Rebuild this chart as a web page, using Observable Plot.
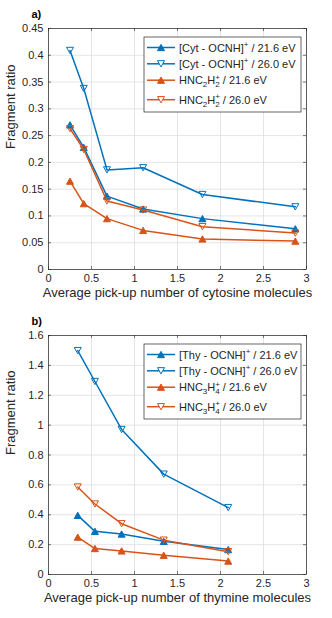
<!DOCTYPE html>
<html>
<head>
<meta charset="utf-8">
<script src="https://cdn.jsdelivr.net/npm/d3@7"></script>
<script src="https://cdn.jsdelivr.net/npm/@observablehq/plot@0.6"></script>
<style>
  html, body { margin: 0; padding: 0; background: #fff; }
  #wrap { width: 332px; }
  svg { display: block; }
</style>
</head>
<body>
<div id="wrap"></div>
<script>
// ---------- data ----------
const xCyt = [0.25, 0.41, 0.68, 1.10, 1.79, 2.87];
const cyt216 = [0.270, 0.228, 0.137, 0.113, 0.095, 0.076];
const cyt260 = [0.409, 0.338, 0.186, 0.190, 0.140, 0.117];
const hnc2216 = [0.165, 0.123, 0.095, 0.073, 0.057, 0.053];
const hnc2260 = [0.263, 0.224, 0.128, 0.111, 0.080, 0.068];

const xThy = [0.34, 0.54, 0.85, 1.34, 2.09];
const thy216 = [0.396, 0.289, 0.271, 0.222, 0.167];
const thy260 = [1.499, 1.292, 0.971, 0.672, 0.448];
const hnc3216 = [0.250, 0.174, 0.158, 0.129, 0.090];
const hnc3260 = [0.586, 0.472, 0.340, 0.230, 0.153];

const xTicks = [0, 0.5, 1, 1.5, 2, 2.5, 3];
const yTicksA = [0, 0.05, 0.1, 0.15, 0.2, 0.25, 0.3, 0.35, 0.4, 0.45];
const yTicksB = [0, 0.2, 0.4, 0.6, 0.8, 1, 1.2, 1.4, 1.6];

const legendA = [
  [{t: "[Cyt - OCNH]"}, {t: "+", sup: true}, {t: " / 21.6 eV"}],
  [{t: "[Cyt - OCNH]"}, {t: "+", sup: true}, {t: " / 26.0 eV"}],
  [{t: "HNC"}, {t: "2", sub: true}, {t: "H"}, {t: "2", stack: "+"}, {t: " / 21.6 eV"}],
  [{t: "HNC"}, {t: "2", sub: true}, {t: "H"}, {t: "2", stack: "+"}, {t: " / 26.0 eV"}]
];
const legendB = [
  [{t: "[Thy - OCNH]"}, {t: "+", sup: true}, {t: " / 21.6 eV"}],
  [{t: "[Thy - OCNH]"}, {t: "+", sup: true}, {t: " / 26.0 eV"}],
  [{t: "HNC"}, {t: "3", sub: true}, {t: "H"}, {t: "4", stack: "+"}, {t: " / 21.6 eV"}],
  [{t: "HNC"}, {t: "3", sub: true}, {t: "H"}, {t: "4", stack: "+"}, {t: " / 26.0 eV"}]
];

// ---------- style ----------
const BLUE = "#0072BD", ORANGE = "#D95319", INK = "#262626", GRID = "#dedede";
const FONT = "'Liberation Sans', Arial, Helvetica, sans-serif";

const triUp = {draw(ctx, size) {
  const r = Math.sqrt(size / Math.PI);
  const h = r * 0.9;
  ctx.moveTo(0, -h); ctx.lineTo(r, h); ctx.lineTo(-r, h); ctx.closePath();
}};
const triDown = {draw(ctx, size) {
  const r = Math.sqrt(size / Math.PI);
  const h = r * 0.9;
  ctx.moveTo(0, h); ctx.lineTo(r, -h); ctx.lineTo(-r, -h); ctx.closePath();
}};

const fmt = d => String(+d.toFixed(2));

function seriesMarks(xs, ys, color, up) {
  const data = xs.map((x, i) => ({x, y: ys[i]}));
  return [
    Plot.line(data, {x: "x", y: "y", stroke: color, strokeWidth: 1.5}),
    Plot.dot(data, {x: "x", y: "y", symbol: up ? triUp : triDown, r: 3.5,
      fill: up ? color : "none", stroke: color, strokeWidth: 1})
  ];
}

function panel(opts) {
  const {xs, series, yTicks, yMax, xlabel, tag, height, mt, mb, legend} = opts;
  const ml = 48, mr = 26, W = 332;
  const fw = W - ml - mr, fh = height - mt - mb;
  const marks = [
    Plot.gridX(xTicks, {stroke: GRID, strokeOpacity: 1, strokeWidth: 0.8}),
    Plot.gridY(yTicks, {stroke: GRID, strokeOpacity: 1, strokeWidth: 0.8}),
    Plot.tickY(yTicks, {y: d => d, stroke: INK, strokeWidth: 0.6, insetRight: fw - 3}),
    Plot.tickY(yTicks, {y: d => d, stroke: INK, strokeWidth: 0.6, insetLeft: fw - 3}),
    Plot.tickX(xTicks, {x: d => d, stroke: INK, strokeWidth: 0.6, insetTop: fh - 3}),
    Plot.tickX(xTicks, {x: d => d, stroke: INK, strokeWidth: 0.6, insetBottom: fh - 3}),
    Plot.frame({stroke: INK, strokeWidth: 0.7}),
    Plot.axisX(xTicks, {tickSize: 0, tickPadding: 5, tickFormat: fmt, label: null, fill: INK}),
    Plot.axisY(yTicks, {tickSize: 0, tickPadding: 5, tickFormat: fmt, label: null, fill: INK}),
    Plot.text([xlabel], {frameAnchor: "bottom", dy: 27, fill: INK, fontSize: 13}),
    Plot.text(["Fragment ratio"], {frameAnchor: "left", rotate: -90, dx: -38, fill: INK, fontSize: 13}),
    Plot.text([tag], {frameAnchor: "top-left", lineAnchor: "middle", dx: -17, dy: -14, fill: "#000", fontWeight: "bold", fontSize: 11})
  ];
  series.forEach(s => marks.push(...seriesMarks(xs, s.ys, s.color, s.up)));
  const svg = Plot.plot({
    width: W, height,
    marginTop: mt, marginBottom: mb, marginLeft: ml, marginRight: mr,
    x: {domain: [0, 3]},
    y: {domain: [0, yMax]},
    style: {fontFamily: FONT, fontSize: "11px", color: INK, background: "#fff", overflow: "visible"},
    marks
  });
  // legend box (layout only)
  const g = d3.select(svg).append("g").attr("font-family", FONT).attr("font-size", 11)
    .attr("fill", INK).attr("text-anchor", "start");
  const bx = 144, by = mt + 9, bw = 157, bh = 75;
  g.append("rect").attr("x", bx).attr("y", by).attr("width", bw).attr("height", bh)
    .attr("fill", "#fff").attr("stroke", INK).attr("stroke-width", 0.7);
  const rowY = [19.5, 35.8, 52.2, 71.7];
  series.forEach((s, i) => {
    const y = mt + rowY[i];
    g.append("line").attr("x1", 147).attr("x2", 175).attr("y1", y).attr("y2", y)
      .attr("stroke", s.color).attr("stroke-width", 1.5);
    const r = 3.5, h = r * 0.9;
    const pts = s.up ? `0,${-h} ${r},${h} ${-r},${h}` : `0,${h} ${r},${-h} ${-r},${-h}`;
    g.append("polygon").attr("points", pts).attr("transform", `translate(161,${y})`)
      .attr("fill", s.up ? s.color : "#fff").attr("stroke", s.color).attr("stroke-width", 1);
    const t = g.append("text").attr("x", 179).attr("y", y + 4);
    let base = 0; // current baseline offset
    const span = (txt, off, size, dx) => {
      const sp = t.append("tspan").attr("dy", off - base).text(txt);
      if (size) sp.attr("font-size", size);
      if (dx) sp.attr("dx", dx);
      base = off;
    };
    legend[i].forEach(p => {
      if (p.sup) span(p.t, -4.5, 8);
      else if (p.sub) span(p.t, 3, 8);
      else if (p.stack) { span(p.stack, -4.5, 8); span(p.t, 3, 8, -4.6); }
      else span(p.t, 0);
    });
  });
  return svg;
}

const wrap = document.getElementById("wrap");
wrap.appendChild(panel({
  xs: xCyt, yTicks: yTicksA, yMax: 0.45, tag: "a)",
  xlabel: "Average pick-up number of cytosine molecules",
  height: 305, mt: 28, mb: 36, legend: legendA,
  series: [
    {ys: cyt216, color: BLUE, up: true},
    {ys: cyt260, color: BLUE, up: false},
    {ys: hnc2216, color: ORANGE, up: true},
    {ys: hnc2260, color: ORANGE, up: false}
  ]
}));
wrap.appendChild(panel({
  xs: xThy, yTicks: yTicksB, yMax: 1.6, tag: "b)",
  xlabel: "Average pick-up number of thymine molecules",
  height: 313, mt: 30, mb: 44, legend: legendB,
  series: [
    {ys: thy216, color: BLUE, up: true},
    {ys: thy260, color: BLUE, up: false},
    {ys: hnc3216, color: ORANGE, up: true},
    {ys: hnc3260, color: ORANGE, up: false}
  ]
}));
</script>
</body>
</html>
